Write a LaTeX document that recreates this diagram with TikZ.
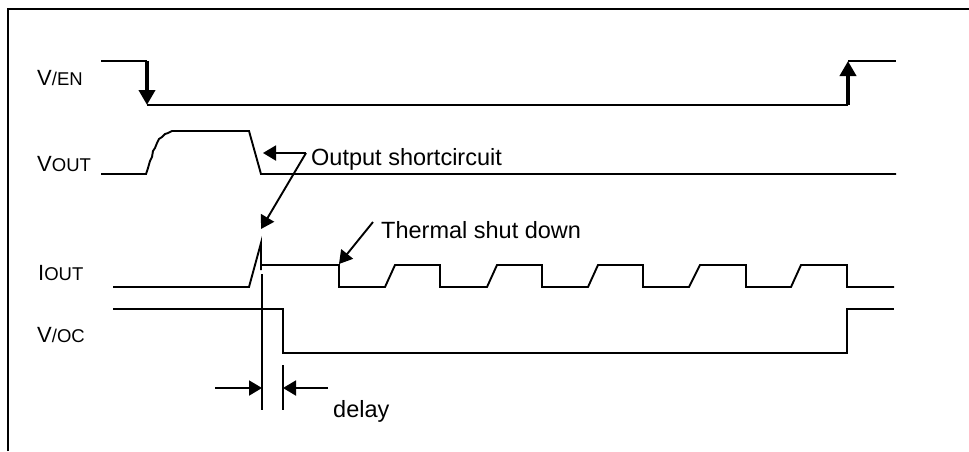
\documentclass[tikz,border=0pt]{standalone}
\usepackage{fontspec}
\setmainfont{Liberation Sans}
\usetikzlibrary{arrows.meta}
\newcommand\siglab[2]{{\fontsize{22}{26}\selectfont #1}{\fontsize{18.5}{22}\selectfont #2}}
\begin{document}
\begin{tikzpicture}[x=1pt,y=-1pt,
  wave/.style={line width=1.9pt,line join=miter},
  bigarrow/.style={line width=3.8pt,-{Triangle[length=15pt 0 0,width=16pt 0 0]}},
  callout/.style={line width=1.9pt,-{Triangle[length=13pt 0 0,width=15pt 0 0]}},
  lab/.style={inner sep=0pt,anchor=base west},
  txt/.style={inner sep=0pt,anchor=base west,font=\fontsize{23.5}{28}\selectfont}]
\useasboundingbox (0,0) rectangle (969,451);
% frame
\draw[line width=1.6pt] (8,451) -- (8,9) -- (969,9);
% labels
\node[lab] (len) at (37,85) {\siglab{V}{/EN}};
\node[lab] (lvout) at (37,171) {\siglab{V}{OUT}};
\node[lab] (liout) at (38,280) {\siglab{I}{OUT}};
\node[lab] (lvoc) at (37,342) {\siglab{V}{/OC}};
% V/EN
\coordinate (en1) at (147,61);
\coordinate (en2) at (147,105);
\coordinate (en3) at (848,105);
\coordinate (en4) at (848,61);
\draw[wave] (101,61) -- (en1);
\draw[bigarrow] (en1) -- (en2);
\draw[wave] (en2) -- (en3);
\draw[bigarrow] (en3) -- (en4);
\draw[wave] (en4) -- (896,61);
% VOUT
\draw[wave] (101,174) -- (146,174)
  -- (148,168) -- (150,161) -- (152,157) -- (153,151) -- (155,148) -- (157,143)
  -- (159,139) -- (162,137) -- (165,134) -- (168,133) -- (172,131)
  -- (249,131) -- (261,174) -- (896,174);
% IOUT
\draw[wave] (113,287) -- (249,287) -- (261,243) -- (261,270);
\draw[wave] (261,265) -- (339,265) -- (339,287)
  -- (385,287) -- (395,265) -- (440,265) -- (440,287)
  -- (487,287) -- (497,265) -- (542,265) -- (542,287)
  -- (588,287) -- (598,265) -- (643,265) -- (643,287)
  -- (689,287) -- (700,265) -- (746,265) -- (746,287)
  -- (791,287) -- (801,265) -- (847,265) -- (847,287) -- (894,287);
% V/OC
\draw[wave] (113,309) -- (283,309) -- (283,353) -- (847,353) -- (847,309) -- (894,309);
% delay markers
\coordinate (d1t) at (262,274);
\coordinate (d1b) at (262,410);
\coordinate (d2t) at (283,365);
\coordinate (d2b) at (283,410);
\draw[wave] (d1t) -- (d1b);
\draw[wave] (d2t) -- (d2b);
\coordinate (dl) at (215,388);
\coordinate (dr) at (328,388);
\draw[callout] (dl) -- (262,388);
\draw[callout] (dr) -- (283,388);
\node[txt] (delay) at (333,417) {delay};
% Output shortcircuit
\coordinate (ok) at (306,153);
\draw[callout] (ok) -- (263,153);
\draw[callout] (ok) -- (261,229);
\node[txt] (osc) at (311,165) {Output shortcircuit};
% Thermal shut down
\coordinate (tk) at (373,222);
\draw[callout] (tk) -- (339,264);
\node[txt] (tsd) at (381,238) {Thermal shut down};
\end{tikzpicture}
\end{document}
